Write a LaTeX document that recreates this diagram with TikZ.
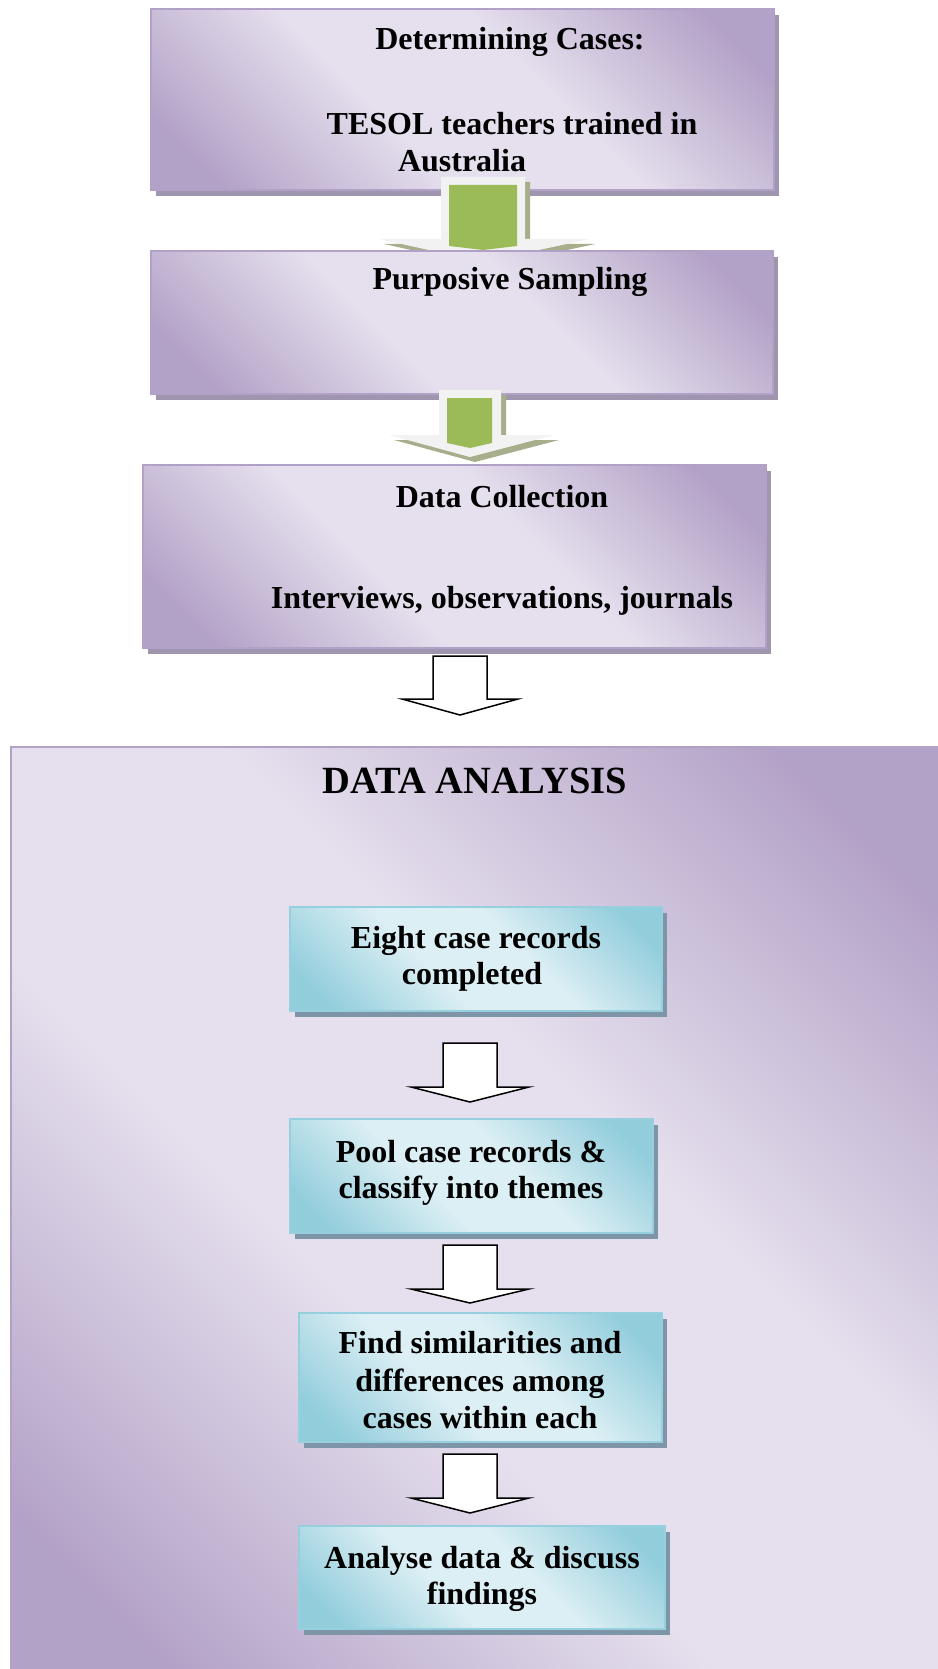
\documentclass[tikz,border=0pt]{standalone}
\usepackage{fontspec}
\setmainfont{Liberation Serif}
\usetikzlibrary{shadows}
\definecolor{pdark}{HTML}{B3A2C7}
\definecolor{plight}{HTML}{E6E0EE}
\definecolor{pborder}{HTML}{B2A1C7}
\definecolor{pshadow}{HTML}{A095AF}
\definecolor{tdark}{HTML}{92CDDC}
\definecolor{tlight}{HTML}{DCEFF4}
\definecolor{tborder}{HTML}{96CFDE}
\definecolor{tshadow}{HTML}{7E95A7}
\definecolor{agreen}{HTML}{9BBB59}
\definecolor{aframe}{HTML}{F2F2F2}
\definecolor{ashadow}{HTML}{A6AE8C}
\pgfdeclareverticalshading{pgrad}{100bp}{color(0bp)=(pdark); color(21bp)=(pdark); color(42bp)=(plight); color(58bp)=(plight); color(79bp)=(pdark); color(100bp)=(pdark)}
\pgfdeclareverticalshading{tgrad}{100bp}{color(0bp)=(tdark); color(21bp)=(tdark); color(42bp)=(tlight); color(58bp)=(tlight); color(79bp)=(tdark); color(100bp)=(tdark)}
\begin{document}
\begin{tikzpicture}[x=1pt,y=-1pt,
  pbox/.style={draw=pborder, line width=2pt, shade, shading=pgrad, shading angle=-45,
    drop shadow={shadow xshift=5pt, shadow yshift=-6pt, fill=pshadow, opacity=1},
    anchor=north west, inner sep=0pt, outer sep=0pt},
  dabox/.style={draw=pborder, line width=2pt, shade, shading=pgrad, shading angle=-45,
    anchor=north west, inner sep=0pt, outer sep=0pt},
  tbox/.style={draw=tborder, line width=2.5pt, shade, shading=tgrad, shading angle=-45,
    drop shadow={shadow xshift=5pt, shadow yshift=-6pt, fill=tshadow, opacity=1},
    anchor=north west, inner sep=0pt, outer sep=0pt},
  txt/.style={font=\fontsize{32}{37}\selectfont\bfseries, inner sep=0pt, anchor=base},
  ttl/.style={font=\fontsize{38.5}{44}\selectfont\bfseries, inner sep=0pt, anchor=base},
  gframe/.style={fill=aframe},
  ggreen/.style={fill=agreen},
  gshad/.style={fill=ashadow},
  warrow/.style={draw=black, line width=1.5pt, fill=white, line join=miter}
]
\useasboundingbox (0,0) rectangle (937,1669);
\fill[white] (0,0) rectangle (937,1669);

% big data analysis panel
\node[dabox, minimum width=935pt, minimum height=935pt] (da) at (11,747) {};
\node[ttl] (datitle) at (475,793) {DATA ANALYSIS};

% box 1
\node[pbox, minimum width=623pt, minimum height=181pt] (box1) at (151,9) {};
\node[txt] (t1a) at (510,50) {Determining Cases:};
\node[txt] (t1b) at (512,135) {TESOL teachers trained in};
\node[txt] (t1c) at (462,172) {Australia};

% green arrow 1
\fill[gshad] (446,182) -- (530,182) -- (530,244) -- (595,244) -- (488,267) -- (384,244) -- (446,244) -- cycle;
\fill[gframe] (441,177) -- (525,177) -- (525,239) -- (590,239) -- (483,262) -- (379,239) -- (441,239) -- cycle;
\fill[ggreen] (449,185) -- (517,185) -- (517,246) -- (483,250) -- (449,246) -- cycle;

% box 2
\node[pbox, minimum width=622pt, minimum height=143pt] (box2) at (151,251) {};
\node[txt] (t2) at (510,290) {Purposive Sampling};

% green arrow 2
\fill[gshad] (444,395) -- (506,395) -- (506,440) -- (559,440) -- (475,462) -- (394,440) -- (444,440) -- cycle;
\fill[gframe] (439,390) -- (501,390) -- (501,435) -- (554,435) -- (470,457) -- (389,435) -- (439,435) -- cycle;
\fill[ggreen] (447,398) -- (492,398) -- (492,443) -- (470,448) -- (447,443) -- cycle;

% box 3
\node[pbox, minimum width=623pt, minimum height=183pt] (box3) at (143,465) {};
\node[txt] (t3a) at (502,507) {Data Collection};
\node[txt] (t3b) at (502,608) {Interviews, observations, journals};

% white arrow into data analysis
\draw[warrow] (433,656) -- (487,656) -- (487,699) -- (518,699) -- (460,715) -- (402,699) -- (433,699) -- cycle;

% teal boxes
\node[tbox, minimum width=372pt, minimum height=104pt] (ba) at (290,907) {};
\node[txt] (ta1) at (476,948) {Eight case records};
\node[txt] (ta2) at (472,984) {completed};

\draw[warrow] (443,1043) -- (497,1043) -- (497,1087) -- (529,1087) -- (470,1102) -- (411,1087) -- (443,1087) -- cycle;

\node[tbox, minimum width=363pt, minimum height=114pt] (bb) at (290,1119) {};
\node[txt] (tb1) at (471,1162) {Pool case records \&};
\node[txt] (tb2) at (471,1198) {classify into themes};

\draw[warrow] (443,1245) -- (497,1245) -- (497,1289) -- (529,1289) -- (470,1303) -- (411,1289) -- (443,1289) -- cycle;

\node[tbox, minimum width=363pt, minimum height=129pt] (bc) at (299,1313) {};
\node[txt] (tc1) at (480,1353) {Find similarities and};
\node[txt] (tc2) at (480,1391) {differences among};
\node[txt] (tc3) at (480,1428) {cases within each};

\draw[warrow] (443,1454) -- (497,1454) -- (497,1498) -- (529,1498) -- (470,1513) -- (411,1498) -- (443,1498) -- cycle;

\node[tbox, minimum width=366pt, minimum height=103pt] (bd) at (299,1526) {};
\node[txt] (td1) at (482,1568) {Analyse data \& discuss};
\node[txt] (td2) at (482,1604) {findings};
\end{tikzpicture}
\end{document}
